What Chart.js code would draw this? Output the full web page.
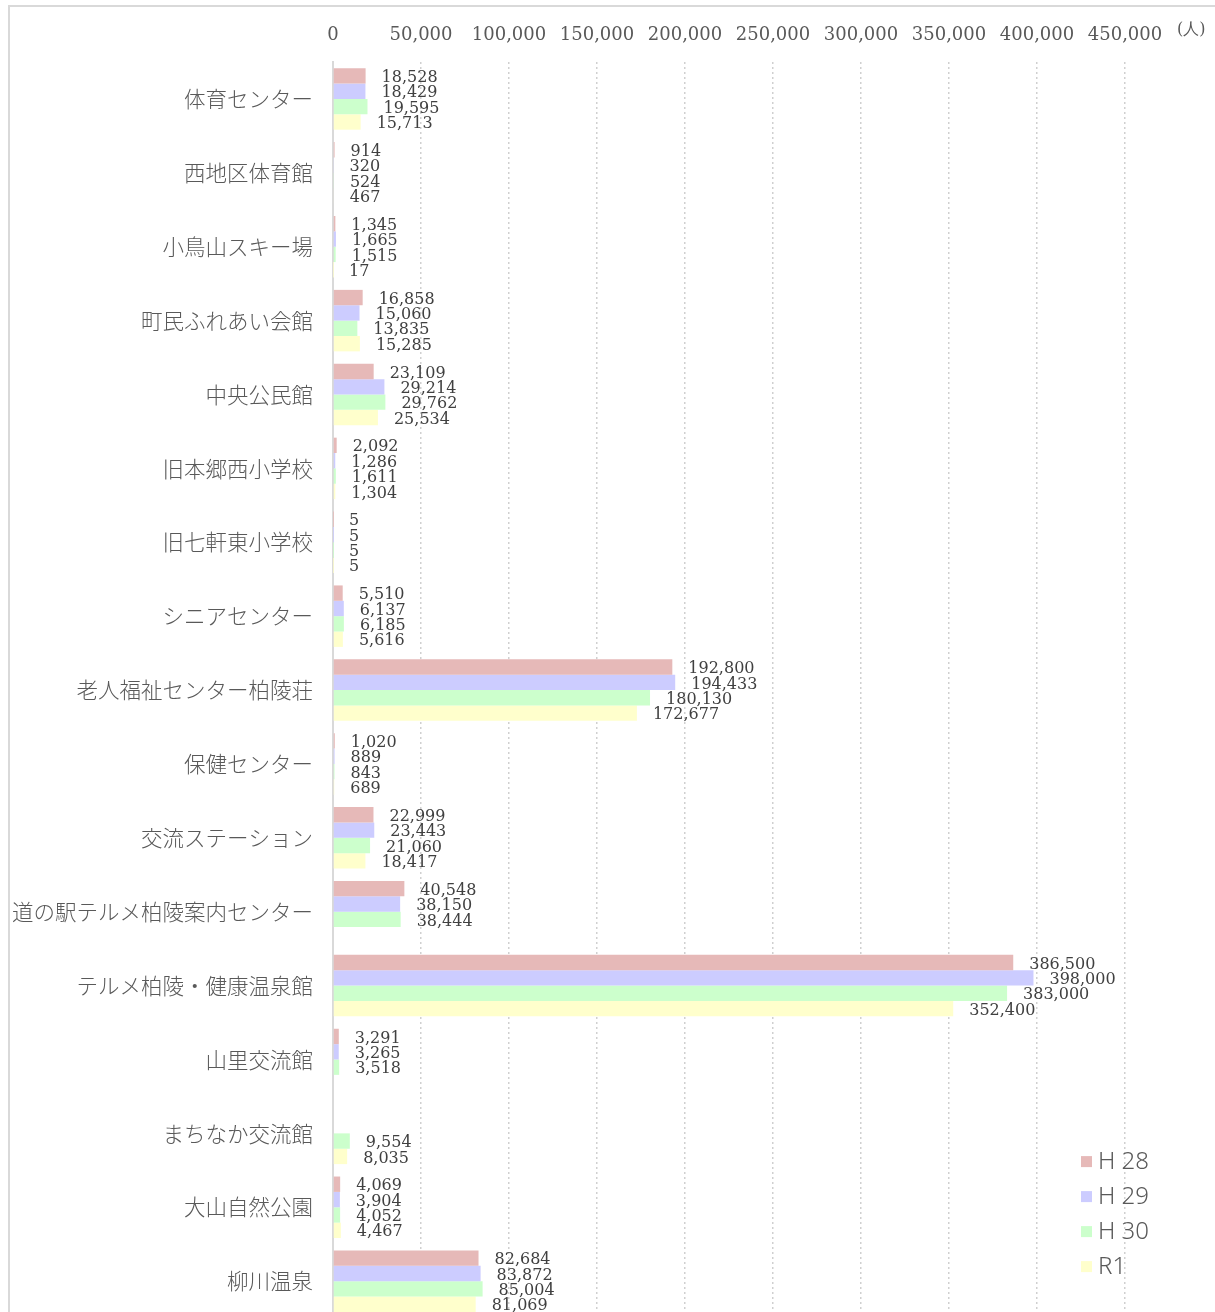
<!DOCTYPE html>
<html>
<head>
<meta charset="utf-8">
<script src="https://cdn.jsdelivr.net/npm/chart.js@4/dist/chart.umd.min.js"></script>
<style>
  html, body { margin: 0; padding: 0; background: #fff; overflow: hidden; }
  #wrap { position: relative; width: 1215px; height: 1351px; }
  #frame { position: absolute; left: 8px; top: 5px; width: 1300px; height: 1400px;
           border-top: 2px solid #d9d9d9; border-left: 2px solid #d9d9d9; pointer-events: none; }
</style>
</head>
<body>
<div id="wrap">
  <canvas id="chart" width="1215" height="1351"></canvas>
  <div id="frame"></div>
</div>
<script>
const categories = [
  "体育センター", "西地区体育館", "小鳥山スキー場", "町民ふれあい会館", "中央公民館",
  "旧本郷西小学校", "旧七軒東小学校", "シニアセンター", "老人福祉センター柏陵荘",
  "保健センター", "交流ステーション", "道の駅テルメ柏陵案内センター",
  "テルメ柏陵・健康温泉館", "山里交流館", "まちなか交流館", "大山自然公園", "柳川温泉"
];
const seriesNames = ["H28", "H29", "H30", "R1"];
const h28 = [18528, 914, 1345, 16858, 23109, 2092, 5, 5510, 192800, 1020, 22999, 40548, 386500, 3291, null, 4069, 82684];
const h29 = [18429, 320, 1665, 15060, 29214, 1286, 5, 6137, 194433, 889, 23443, 38150, 398000, 3265, null, 3904, 83872];
const h30 = [19595, 524, 1515, 13835, 29762, 1611, 5, 6185, 180130, 843, 21060, 38444, 383000, 3518, 9554, 4052, 85004];
const r1 = [15713, 467, 17, 15285, 25534, 1304, 5, 5616, 172677, 689, 18417, null, 352400, null, 8035, 4467, 81069];
const seriesColors = ["#e6b9b8", "#ccccff", "#ccffcc", "#ffffcc"];
const unitLabel = "(人)";

const numFont = "DejaVu Serif";

// value labels to the right of each bar
const valueLabels = {
  id: "valueLabels",
  afterDatasetsDraw(chart) {
    const ctx = chart.ctx;
    ctx.save();
    ctx.font = "16px '" + numFont + "'";
    ctx.fillStyle = "#404040";
    ctx.textAlign = "left";
    ctx.textBaseline = "middle";
    chart.data.datasets.forEach((ds, i) => {
      const meta = chart.getDatasetMeta(i);
      meta.data.forEach((bar, j) => {
        const v = ds.data[j];
        if (v === null || v === undefined) return;
        ctx.fillText(v.toLocaleString("en-US"), bar.x + 16, bar.y + 2);
      });
    });
    ctx.restore();
  },
};

// legend inside the plot (bottom right) and unit label
const extras = {
  id: "extras",
  afterDraw(chart) {
    const ctx = chart.ctx;
    const area = chart.chartArea;
    ctx.save();
    ctx.font = "300 24px 'Noto Sans', sans-serif";
    ctx.textBaseline = "middle";
    ctx.textAlign = "left";
    seriesNames.forEach((name, i) => {
      const y = area.bottom - 157 + i * 35;
      ctx.fillStyle = seriesColors[i];
      ctx.fillRect(area.right - 44, y - 5, 11, 11);
      ctx.fillStyle = "#595959";
      ctx.fillText(name.replace(/^H/, "H "), area.right - 27, y + 1);
    });
    ctx.font = "16px '" + numFont + "'";
    ctx.fillStyle = "#595959";
    ctx.fillText(unitLabel, area.right + 52, 30);
    ctx.restore();
  },
};

new Chart(document.getElementById("chart"), {
  type: "bar",
  data: {
    labels: categories,
    datasets: [h28, h29, h30, r1].map((d, i) => ({
      label: seriesNames[i],
      data: d,
      backgroundColor: seriesColors[i],
      borderWidth: 0,
      barPercentage: 1.0,
      categoryPercentage: 0.832,
    })),
  },
  options: {
    indexAxis: "y",
    responsive: false,
    animation: false,
    layout: { padding: { top: 2, right: 90, bottom: 10, left: 0 } },
    plugins: {
      legend: { display: false },
      tooltip: { enabled: false },
    },
    scales: {
      x: {
        position: "top",
        min: 0,
        max: 450000,
        ticks: {
          stepSize: 50000,
          padding: 16,
          color: "#595959",
          font: { family: numFont, size: 18 },
          callback: (v) => v.toLocaleString("en-US"),
        },
        grid: { color: "#d0d0d0", lineWidth: 1.5, drawTicks: false },
        border: { display: false, dash: [2, 3] },
        afterFit: (scale) => { scale.height = 60; },
      },
      y: {
        ticks: {
          padding: 20,
          color: "#595959",
          font: { family: "'Noto Sans CJK JP'", size: 21.5, weight: "300" },
        },
        grid: { display: false, drawTicks: false },
        border: { display: true, color: "#d9d9d9", width: 2 },
        afterFit: (scale) => { scale.width = 333; },
      },
    },
  },
  plugins: [valueLabels, extras],
});
</script>
</body>
</html>
